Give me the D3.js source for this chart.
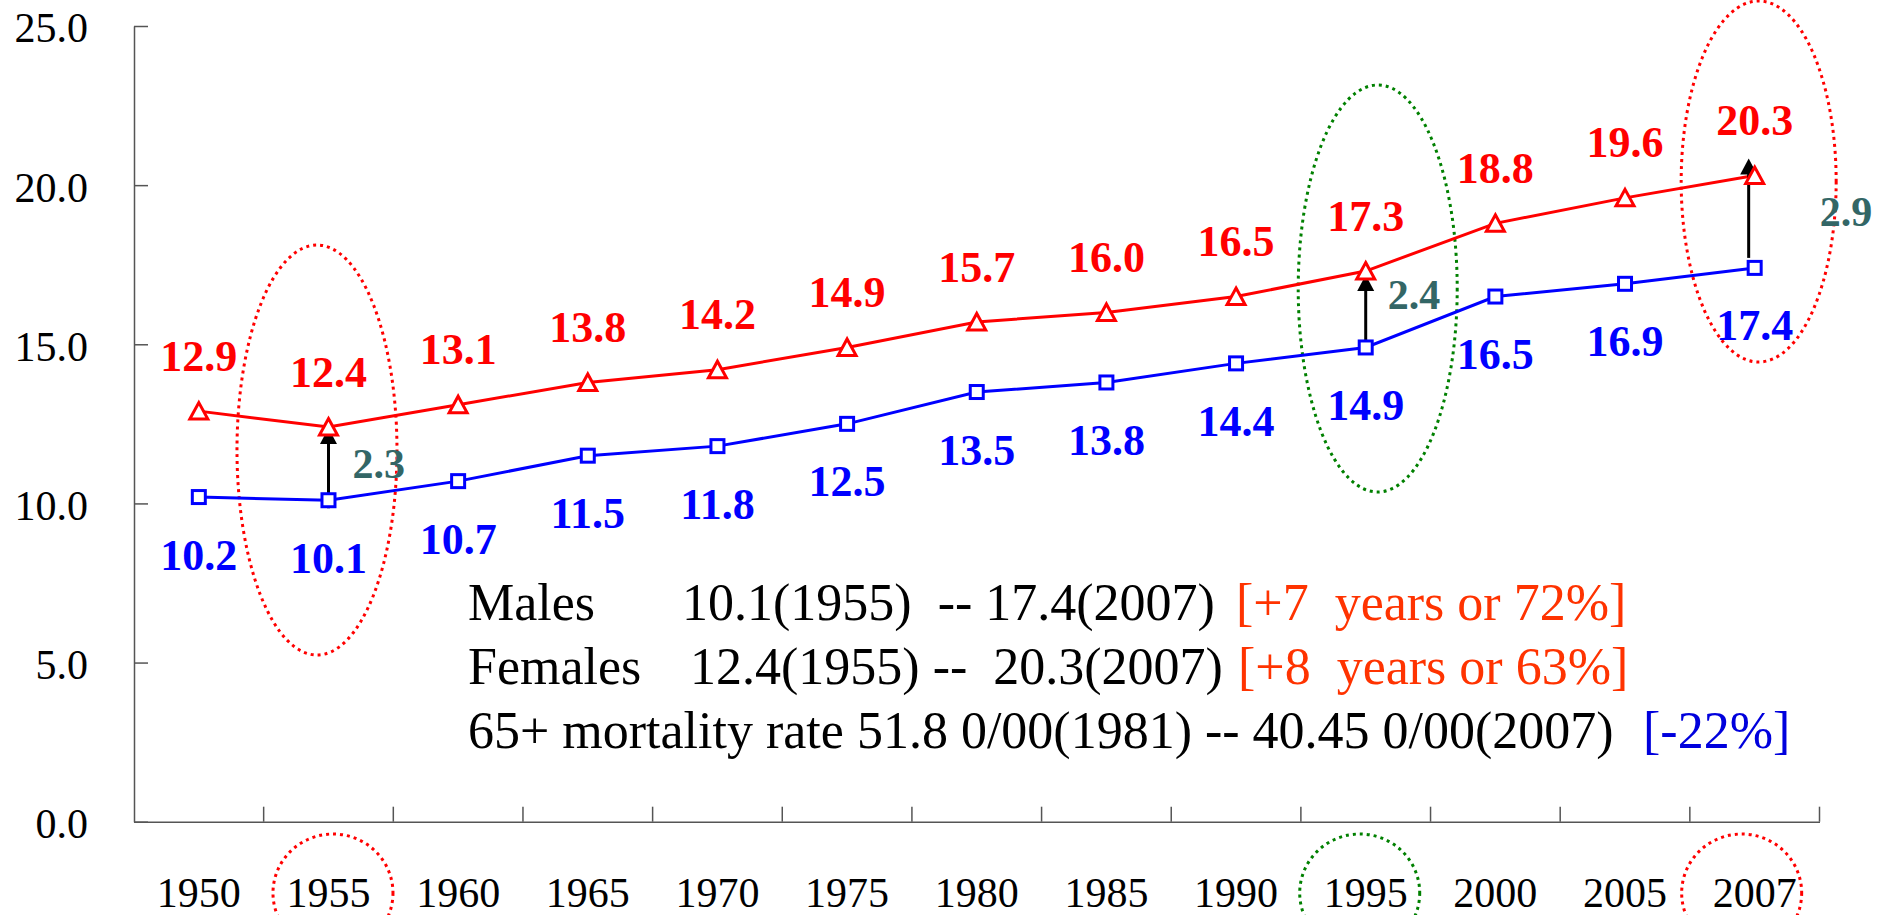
<!DOCTYPE html>
<html>
<head>
<meta charset="utf-8">
<script src="https://cdn.jsdelivr.net/npm/d3@7"></script>
<style>
  html, body { margin: 0; padding: 0; background: #fff; }
  svg { display: block; font-family: "Liberation Serif", "Times New Roman", serif; }
</style>
</head>
<body>
<svg id="chart" width="1885" height="915"></svg>
<script>
// chart data
var years = ["1950", "1955", "1960", "1965", "1970", "1975", "1980", "1985", "1990", "1995", "2000", "2005", "2007"];
var females = [12.9, 12.4, 13.1, 13.8, 14.2, 14.9, 15.7, 16.0, 16.5, 17.3, 18.8, 19.6, 20.3];
var males = [10.2, 10.1, 10.7, 11.5, 11.8, 12.5, 13.5, 13.8, 14.4, 14.9, 16.5, 16.9, 17.4];
var yTicks = [0, 5, 10, 15, 20, 25];

// gap between the two series, marked with arrows
var gapYears = ["1955", "1995", "2007"];
var gapValues = [2.3, 2.4, 2.9];

// circled years
var highlightYears = ["1955", "1995", "2007"];
var highlightColors = ["#ff0000", "#008000", "#ff0000"];

// note in the lower part of the plot
var noteLabels = ["Males", "Females", "65+ mortality rate 51.8 0/00(1981) -- 40.45 0/00(2007)"];
var noteValues = ["10.1(1955)  -- 17.4(2007)", "12.4(1955) --  20.3(2007)", ""];
var noteChanges = ["[+7  years or 72%]", "[+8  years or 63%]", "[-22%]"];
var noteColors = ["#ff3300", "#ff3300", "#0000dd"];

// layout (pixels)
var plotLeft = 134, plotRight = 1819.5, plotTop = 26, plotBottom = 821.7;
var arrowNudge = [{dx: 0, tip: 1, base: 8}, {dx: 0, tip: 4, base: -4}, {dx: -6, tip: -17, base: -10}];
var gapLabelNudge = [{dx: 24, dy: 0}, {dx: 22, dy: -15}, {dx: 65, dy: -10}];
var bigRings = [{dx: -11.5, cy: 450, rx: 80, ry: 205}, {dx: 12, cy: 288.5, rx: 79.5, ry: 203.5}, {dx: 4, cy: 181.5, rx: 77.5, ry: 180.5}];
var smallRings = [{dx: 4.5}, {dx: -6}, {dx: -13}];
var noteX = [[468, 682, 1236], [468, 690, 1238], [468, 0, 1643]];
var noteY = [620, 684, 748];

var svg = d3.select("#chart");

var x = d3.scaleBand().domain(years).range([plotLeft, plotRight]);
var y = d3.scaleLinear().domain([0, 25]).range([plotBottom, plotTop]);
var cx = function (d) { return x(d) + x.bandwidth() / 2; };

// y axis
var yAxis = svg.append("g")
    .attr("transform", "translate(" + plotLeft + ",0)")
    .call(d3.axisLeft(y).tickValues(yTicks).tickFormat(d3.format(".1f"))
        .tickSizeInner(-14).tickSizeOuter(0).tickPadding(46));
yAxis.select(".domain").attr("stroke", "#555").attr("stroke-width", 1.5);
yAxis.selectAll(".tick line").attr("stroke", "#555").attr("stroke-width", 1.5);
yAxis.selectAll("text")
    .attr("font-family", "Liberation Serif")
    .attr("font-size", 42)
    .attr("fill", "#000")
    .attr("dy", "0.38em");

// x axis
var xAxis = svg.append("g")
    .attr("transform", "translate(0," + plotBottom + ")")
    .call(d3.axisBottom(x).tickSize(0).tickPadding(55));
xAxis.select(".domain").attr("stroke", "#555").attr("stroke-width", 1.5);
xAxis.selectAll("text")
    .attr("font-family", "Liberation Serif")
    .attr("font-size", 42)
    .attr("fill", "#000");
xAxis.selectAll(".bound")
    .data(years.slice(1).map(function (d) { return x(d); }).concat([plotRight]))
    .enter().append("line")
    .attr("class", "bound")
    .attr("x1", function (d) { return d; })
    .attr("x2", function (d) { return d; })
    .attr("y1", 0)
    .attr("y2", -15)
    .attr("stroke", "#555")
    .attr("stroke-width", 1.5);

// dotted rings
svg.selectAll(".bigRing")
    .data(highlightYears)
    .enter().append("ellipse")
    .attr("class", "bigRing")
    .attr("cx", function (d, i) { return cx(d) + bigRings[i].dx; })
    .attr("cy", function (d, i) { return bigRings[i].cy; })
    .attr("rx", function (d, i) { return bigRings[i].rx; })
    .attr("ry", function (d, i) { return bigRings[i].ry; })
    .attr("fill", "none")
    .attr("stroke", function (d, i) { return highlightColors[i]; })
    .attr("stroke-width", 3)
    .attr("stroke-dasharray", "3,4");

svg.selectAll(".smallRing")
    .data(highlightYears)
    .enter().append("ellipse")
    .attr("class", "smallRing")
    .attr("cx", function (d, i) { return cx(d) + smallRings[i].dx; })
    .attr("cy", 893)
    .attr("rx", 60)
    .attr("ry", 59)
    .attr("fill", "none")
    .attr("stroke", function (d, i) { return highlightColors[i]; })
    .attr("stroke-width", 3)
    .attr("stroke-dasharray", "3,4");

// series lines
var line = d3.line()
    .x(function (d, i) { return cx(years[i]); })
    .y(function (d) { return y(d); });

svg.append("path").datum(females)
    .attr("d", line).attr("fill", "none").attr("stroke", "#ff0000").attr("stroke-width", 3);
svg.append("path").datum(males)
    .attr("d", line).attr("fill", "none").attr("stroke", "#0000ff").attr("stroke-width", 3);

// arrows
gapYears.forEach(function (yr, i) {
    var idx = years.indexOf(yr);
    var ax = cx(yr) + arrowNudge[i].dx;
    var tip = y(females[idx]) + arrowNudge[i].tip;
    var base = y(males[idx]) + arrowNudge[i].base;
    svg.append("line")
        .attr("x1", ax).attr("x2", ax)
        .attr("y1", base).attr("y2", tip + 12)
        .attr("stroke", "#000").attr("stroke-width", 3);
    svg.append("path")
        .attr("d", "M" + ax + "," + tip + "L" + (ax - 8.5) + "," + (tip + 16) + "L" + (ax + 8.5) + "," + (tip + 16) + "Z")
        .attr("fill", "#000");
});

// markers
svg.selectAll(".tri")
    .data(females)
    .enter().append("path")
    .attr("class", "tri")
    .attr("transform", function (d, i) { return "translate(" + cx(years[i]) + "," + y(d) + ")"; })
    .attr("d", "M0,-8.5L9,8L-9,8Z")
    .attr("fill", "#fff")
    .attr("stroke", "#ff0000")
    .attr("stroke-width", 3);

svg.selectAll(".sq")
    .data(males)
    .enter().append("rect")
    .attr("class", "sq")
    .attr("x", function (d, i) { return cx(years[i]) - 6.5; })
    .attr("y", function (d) { return y(d) - 6.5; })
    .attr("width", 13)
    .attr("height", 13)
    .attr("fill", "#fff")
    .attr("stroke", "#0000ff")
    .attr("stroke-width", 3);

// value labels
svg.selectAll(".fLabel")
    .data(females)
    .enter().append("text")
    .attr("x", function (d, i) { return cx(years[i]); })
    .attr("y", function (d) { return y(d) - 40.5; })
    .attr("text-anchor", "middle")
    .attr("font-weight", "bold")
    .attr("font-size", 44)
    .attr("fill", "#ff0000")
    .text(function (d) { return d.toFixed(1); });

svg.selectAll(".mLabel")
    .data(males)
    .enter().append("text")
    .attr("x", function (d, i) { return cx(years[i]); })
    .attr("y", function (d) { return y(d) + 72.5; })
    .attr("text-anchor", "middle")
    .attr("font-weight", "bold")
    .attr("font-size", 44)
    .attr("fill", "#0000ff")
    .text(function (d) { return d.toFixed(1); });

// gap labels
svg.selectAll(".gLabel")
    .data(gapValues)
    .enter().append("text")
    .attr("x", function (d, i) { return cx(gapYears[i]) + gapLabelNudge[i].dx; })
    .attr("y", function (d, i) {
        var idx = years.indexOf(gapYears[i]);
        return (y(females[idx]) + y(males[idx])) / 2 + gapLabelNudge[i].dy + 14.5;
    })
    .attr("font-weight", "bold")
    .attr("font-size", 42)
    .attr("fill", "#336666")
    .text(function (d) { return d.toFixed(1); });

// note
noteLabels.forEach(function (lab, i) {
    var t = svg.append("text")
        .attr("y", noteY[i])
        .attr("font-size", 52)
        .style("white-space", "pre");
    t.append("tspan").attr("x", noteX[i][0]).attr("fill", "#000").text(lab);
    if (noteValues[i]) t.append("tspan").attr("x", noteX[i][1]).attr("fill", "#000").text(noteValues[i]);
    t.append("tspan").attr("x", noteX[i][2]).attr("fill", noteColors[i]).text(noteChanges[i]);
});
</script>
</body>
</html>
